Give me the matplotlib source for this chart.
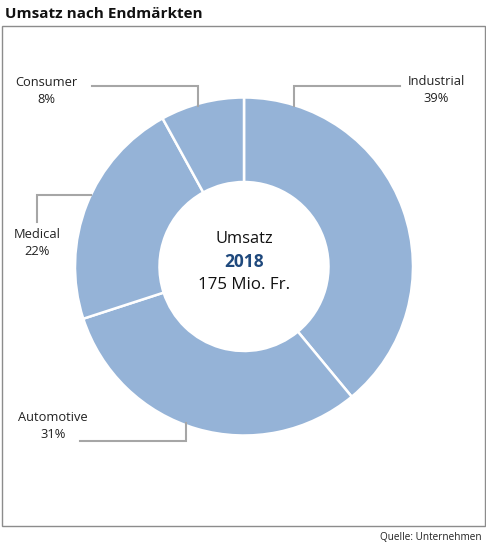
import matplotlib.pyplot as plt
from matplotlib.patches import Rectangle

# --- Data ---
categories = ['Industrial', 'Automotive', 'Medical', 'Consumer']
shares = [39, 31, 22, 8]
center_lines = ['Umsatz', '2018', '175 Mio. Fr.']

slice_color = '#95B3D7'
line_gray = '#A6A6A6'

plt.rcParams['font.family'] = ['Open Sans', 'DejaVu Sans']

W, H = 486, 547
CX, CY, R = 244, 266.5, 169.0


def px(x, y):
    # pixel position -> data coordinates (pie radius = 1)
    return (x - CX) / R, (CY - y) / R


fig = plt.figure(figsize=(W / 100, H / 100), dpi=100)
ax = fig.add_axes([0, 0, 1, 1])
ax.axis('off')

ax.pie(shares, startangle=90, counterclock=False, colors=[slice_color] * len(shares),
       radius=1.0, wedgeprops={'width': 0.5, 'edgecolor': 'white', 'linewidth': 1.8})
ax.set_xlim(-CX / R, (W - CX) / R)
ax.set_ylim(-(H - CY) / R, CY / R)

# label placement (layout only)
label_pos = {
    'Industrial': (436, 90),
    'Automotive': (53, 426),
    'Medical': (37, 243),
    'Consumer': (46, 91),
}
leaders = {
    'Industrial': [(294, 106), (294, 86), (400, 86)],
    'Automotive': [(186, 423), (186, 441), (80, 441)],
    'Medical': [(91, 195), (37, 195), (37, 222)],
    'Consumer': [(198, 106), (198, 86), (92, 86)],
}

for cat, val in zip(categories, shares):
    x, y = px(*label_pos[cat])
    ax.text(x, y, f'{cat}\n{val}%', ha='center', va='center', fontsize=9.3,
            linespacing=1.35, color='#222222')
    pts = [px(a, b) for a, b in leaders[cat]]
    ax.plot([p[0] for p in pts], [p[1] for p in pts], color=line_gray, lw=1.5,
            solid_joinstyle='miter')

# center texts
ax.text(*px(CX, 239), center_lines[0], ha='center', va='center', fontsize=11.8, color='#111111')
ax.text(*px(CX, 262), center_lines[1], ha='center', va='center', fontsize=12.5,
        fontweight='bold', color='#1F497D')
ax.text(*px(CX, 285), center_lines[2], ha='center', va='center', fontsize=12.2, color='#111111')

# frame, title, source
fig.patches.append(Rectangle((2 / W, 1 - 526 / H), 483 / W, 500 / H, transform=fig.transFigure,
                             fill=False, edgecolor='#8C8C8C', lw=1.0))
fig.text(5 / W, 1 - 14 / H, 'Umsatz nach Endmärkten', ha='left', va='center',
         fontsize=11, fontweight='bold', color='#111111')
fig.text(482 / W, 1 - 538 / H, 'Quelle: Unternehmen', ha='right', va='center',
         fontsize=7.2, color='#222222')

fig.savefig('out.png', dpi=100)
